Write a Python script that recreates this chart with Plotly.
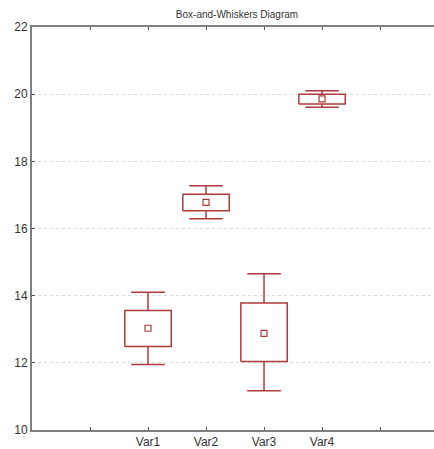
import plotly.graph_objects as go

# Summary statistics per variable
variables = ["Var1", "Var2", "Var3", "Var4"]
means = [13.03, 16.78, 12.88, 19.86]
box_low = [12.49, 16.53, 12.04, 19.71]
box_high = [13.56, 17.02, 13.78, 20.00]
whisk_low = [11.95, 16.29, 11.17, 19.61]
whisk_high = [14.10, 17.27, 14.65, 20.10]

y_ticks = [10, 12, 14, 16, 18, 20, 22]

RED = "#AD3B3B"
AXIS = "#7f7f7f"
FONT = "Liberation Sans, Arial, sans-serif"

BOX_HALF = 0.40   # half width of the box, in category units
CAP_HALF = 0.29   # half width of the whisker caps

# categories sit at x = 2..5 on a 0..7 numeric axis
xpos = [i + 2 for i in range(len(variables))]

# build one polyline path for all boxes, stems and caps
px, py = [], []
for x, lo, hi, wlo, whi in zip(xpos, box_low, box_high, whisk_low, whisk_high):
    # box outline
    px += [x - BOX_HALF, x + BOX_HALF, x + BOX_HALF, x - BOX_HALF, x - BOX_HALF, None]
    py += [lo, lo, hi, hi, lo, None]
    # upper whisker and cap
    px += [x, x, None, x - CAP_HALF, x + CAP_HALF, None]
    py += [hi, whi, None, whi, whi, None]
    # lower whisker and cap
    px += [x, x, None, x - CAP_HALF, x + CAP_HALF, None]
    py += [lo, wlo, None, wlo, wlo, None]

fig = go.Figure()

fig.add_trace(go.Scatter(
    x=px,
    y=py,
    mode="lines",
    line=dict(color=RED, width=1.5),
    connectgaps=False,
    hoverinfo="skip",
    showlegend=False,
))

fig.add_trace(go.Scatter(
    x=xpos,
    y=means,
    mode="markers",
    marker=dict(symbol="square-open", size=6, color=RED, line=dict(width=1.2)),
    showlegend=False,
))

fig.update_layout(
    width=434,
    height=449,
    margin=dict(l=32, r=0, t=27, b=19),
    paper_bgcolor="white",
    plot_bgcolor="white",
    font=dict(family=FONT, size=12, color="#333333"),
    title=dict(
        text="Box-and-Whiskers Diagram",
        x=237 / 434,
        xanchor="center",
        y=1 - 14 / 449,
        yanchor="middle",
        font=dict(family=FONT, size=10, color="#333333"),
    ),
    xaxis=dict(
        range=[0, 6.93],
        tickmode="array",
        tickvals=[1, 2, 3, 4, 5, 6],
        ticktext=[""] + variables + [""],
        showgrid=False,
        zeroline=False,
        showline=True,
        linecolor=AXIS,
        linewidth=2,
        mirror="ticks",
        ticks="inside",
        ticklen=3,
        tickcolor="#555555",
        tickfont=dict(family=FONT, size=12, color="#333333"),
    ),
    yaxis=dict(
        range=[10, 22],
        tickmode="array",
        tickvals=y_ticks,
        showgrid=True,
        gridcolor="#dadada",
        griddash="dot",
        gridwidth=1,
        zeroline=False,
        showline=True,
        linecolor=AXIS,
        linewidth=2,
        ticks="inside",
        ticklen=3,
        tickcolor="#555555",
        tickfont=dict(family=FONT, size=12, color="#333333"),
    ),
)

fig.write_html("out.html")
